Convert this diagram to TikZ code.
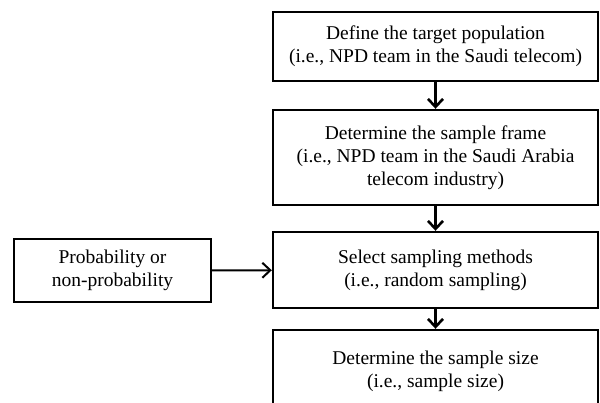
\documentclass[tikz,border=0pt]{standalone}
\usepackage{fontspec}
\setmainfont{Liberation Serif}
\usetikzlibrary{arrows.meta}
\begin{document}
\begin{tikzpicture}[x=1pt,y=-1pt]
			\tikzset{kasten/.style={rectangle, draw=black, line width=2.4pt, align=center, inner sep=2, font=\fontsize{19.5}{23}\selectfont}}
			\tikzset{pfeil/.style={line width=2.6pt, -{Straight Barb[length=8pt,width=15pt]}}}
\useasboundingbox (0,0) rectangle (600,402);
\clip (0,0) rectangle (600,402);

\node[kasten, minimum width=325, minimum height=69] at (435.5, 46.5) (a) {Define the target population\\(i.e., NPD team in the Saudi telecom)};
\node[kasten, minimum width=325, minimum height=95] at (435.5, 157.5) (b) {Determine the sample frame\\(i.e., NPD team in the Saudi Arabia\\telecom industry)};
\node[kasten, minimum width=325, minimum height=76] at (435.5, 270) (c) {Select sampling methods\\(i.e., random sampling)};
\node[kasten, minimum width=325, minimum height=82] at (435.5, 371) (d) {Determine the sample size\\(i.e., sample size)};
\node[kasten, minimum width=197, minimum height=63] at (112.5, 270.5) (e) {Probability or\\non-probability};
			\draw [pfeil] (a) -- (b);
			\draw [pfeil] (b) -- (c);
			\draw [pfeil] (c) -- (d);
			\draw [pfeil, line width=2pt] (e) -- (c);
		\end{tikzpicture}
\end{document}
